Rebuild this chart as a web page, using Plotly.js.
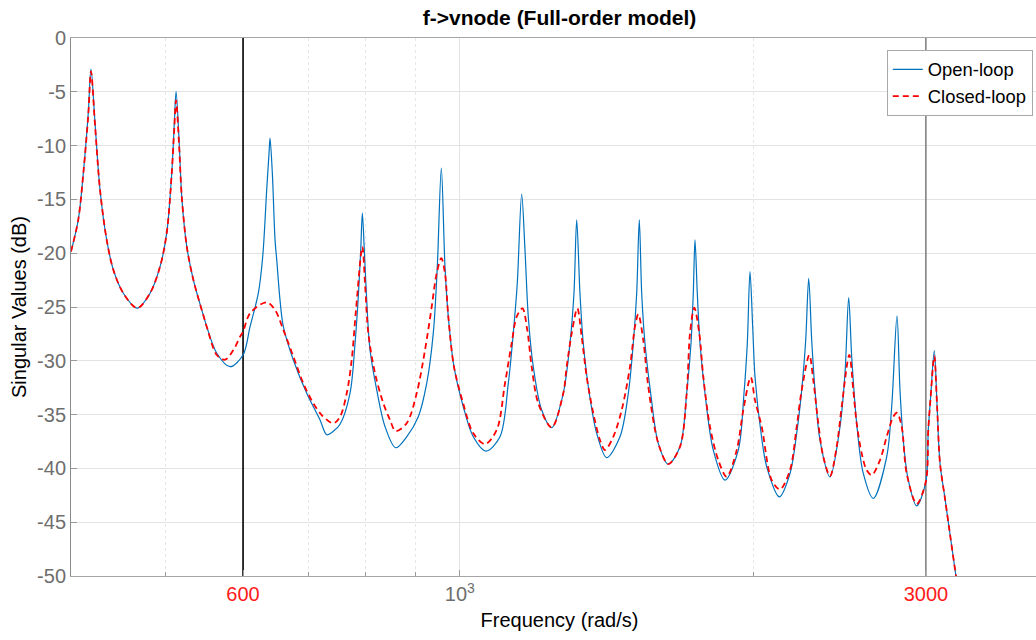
<!DOCTYPE html>
<html>
<head>
<meta charset="utf-8">
<script src="https://cdn.plot.ly/plotly-3.0.1.min.js"></script>
<style>
  html, body { margin: 0; padding: 0; overflow: hidden; background: #fff; }
  #chart { width: 1048px; height: 640px; }
</style>
</head>
<body>
<div id="chart"></div>
<script>
// ---- Data (frequency in rad/s, magnitude in dB) ----
const openLoopFreq = [400, 406.9, 411.8, 416.6, 419.3, 423.3, 428.3, 435.1, 442.0, 452.5, 467.6, 481.9, 493.4, 501.2, 507.2, 510.3, 512.4, 516.0, 519.3, 525.5, 533.7, 546.4, 550.8, 564.0, 581.9, 600, 610.0, 622.0, 628.5, 634.4, 637.9, 639.4, 642.9, 647.0, 649.6, 654.6, 659.8, 675.5, 697.2, 719.4, 730.8, 742.2, 754.1, 772.1, 781.2, 787.3, 791.8, 794.8, 798.5, 803.0, 809.3, 822.2, 838.4, 859.8, 882.4, 906.8, 925.0, 939.5, 948.4, 957.4, 965.7, 973.3, 986.4, 1008.3, 1032.3, 1063.7, 1099.4, 1121.1, 1134.4, 1145.1, 1157.0, 1166.1, 1175.2, 1189.1, 1212.9, 1241.8, 1276.2, 1296.5, 1308.8, 1317.2, 1327.4, 1337.8, 1356.9, 1380.8, 1413.7, 1458.7, 1487.6, 1505.2, 1517.3, 1526.6, 1535.3, 1547.2, 1568.2, 1596.5, 1634.6, 1680.3, 1707.1, 1724.5, 1733.8, 1740.8, 1750.2, 1761.4, 1782.3, 1817.5, 1868.4, 1927.8, 1953.9, 1969.2, 1981.7, 1994.4, 2005.2, 2037.2, 2061.4, 2123.4, 2177.6, 2212.2, 2238.5, 2259.8, 2275.8, 2291.9, 2309.8, 2337.2, 2392.9, 2449.9, 2478.9, 2500.7, 2518.4, 2548.2, 2588.2, 2649.9, 2735.0, 2767.4, 2802.2, 2822.0, 2844.0, 2877.7, 2935.3, 3000, 3016.7, 3033.8, 3059.6, 3079.2, 3101.0, 3137.8, 3174.9, 3220, 3235.2];
const openLoopDb = [-19.85, -16.9, -12.56, -6.98, -2.9, -7.9, -14.1, -18.76, -21.55, -23.72, -25.1, -23.72, -21.25, -18.14, -12.56, -7.9, -4.97, -9.46, -14.73, -19.39, -22.48, -25.77, -26.83, -29.3, -30.55, -29.46, -26.83, -23.72, -20.3, -14.11, -10.7, -9.3, -12.56, -18.76, -20.62, -24.34, -26.83, -29.92, -33.02, -35.5, -36.87, -36.55, -35.9, -33.0, -28.4, -24.0, -19.7, -16.28, -19.7, -24.34, -29.0, -32.7, -36.1, -38.08, -37.06, -35.2, -32.1, -27.4, -21.25, -12.09, -21.25, -25.9, -30.55, -34.27, -37.06, -38.39, -37.06, -32.1, -27.44, -22.8, -14.51, -19.7, -25.9, -30.55, -34.58, -36.22, -33.02, -28.37, -23.72, -16.9, -23.72, -28.37, -33.02, -36.74, -39.0, -37.06, -33.02, -28.37, -23.72, -16.9, -23.72, -28.37, -33.02, -37.67, -39.6, -37.99, -33.02, -28.37, -23.7, -18.76, -23.7, -28.37, -33.02, -38.3, -41.09, -38.3, -33.02, -28.37, -21.71, -26.83, -31.48, -37.2, -39.85, -42.64, -40.47, -36.74, -32.72, -28.07, -22.33, -28.07, -32.72, -37.37, -40.78, -36.13, -31.17, -24.13, -29.62, -35.82, -40.47, -42.79, -38.92, -34.27, -25.83, -32.72, -37.37, -41.09, -43.48, -41.2, -36.4, -33.3, -29.06, -34.0, -39.5, -42.8, -46.1, -50.0, -51.3];

const closedLoopFreq = [400, 406.9, 411.8, 416.6, 419.3, 423.3, 428.3, 435.1, 442.0, 452.5, 467.6, 481.9, 493.4, 501.2, 507.2, 510.3, 512.4, 516.0, 519.3, 525.5, 533.7, 546.4, 550.8, 564.0, 575.1, 586.5, 595.8, 600, 610.0, 634.4, 647.0, 659.8, 675.5, 691.6, 708.1, 722.2, 742.2, 754.1, 766.1, 775.1, 783.0, 794.8, 799.8, 806.1, 818.9, 835.1, 848.4, 859.8, 882.4, 903.4, 921.3, 936.0, 947.0, 957.4, 965.7, 973.3, 986.4, 1008.3, 1032.3, 1061.2, 1090.8, 1112.4, 1130.1, 1143.5, 1159.2, 1172.4, 1184.6, 1203.2, 1241.8, 1276.2, 1286.5, 1301.8, 1319.1, 1332.8, 1348.6, 1369.8, 1391.6, 1408.0, 1435.8, 1464.6, 1493.5, 1511.2, 1523.0, 1541.0, 1559.3, 1596.5, 1634.6, 1680.3, 1707.1, 1720.4, 1737.9, 1758.5, 1775.2, 1803.4, 1839.0, 1875.8, 1920.6, 1950.7, 1985.0, 2005.2, 2037.2, 2085.7, 2126.9, 2177.6, 2212.2, 2238.5, 2279.0, 2300.5, 2327.8, 2355.4, 2392.9, 2430.9, 2459.7, 2504.2, 2528.0, 2548.2, 2578.5, 2609.0, 2640.0, 2692.2, 2735.0, 2777.9, 2802.2, 2833.4, 2866.9, 2935.3, 3000, 3016.7, 3033.8, 3059.6, 3079.2, 3101.0, 3137.8, 3174.9, 3220, 3235.2];
const closedLoopDb = [-19.85, -16.9, -12.56, -7.2, -3.1, -8.1, -14.1, -18.76, -21.55, -23.72, -25.1, -23.72, -21.25, -18.14, -12.56, -8.3, -5.8, -9.9, -14.73, -19.39, -22.48, -25.77, -26.83, -29.46, -29.9, -29.0, -27.76, -27.3, -25.58, -24.56, -25.27, -27.13, -29.6, -32.1, -33.95, -35.04, -35.81, -35.2, -33.02, -29.92, -25.27, -19.4, -22.8, -27.44, -31.16, -33.95, -35.5, -36.53, -35.8, -33.02, -29.0, -24.97, -21.86, -20.47, -21.86, -25.9, -30.55, -34.0, -36.74, -37.74, -36.44, -32.1, -28.37, -25.9, -25.13, -27.13, -30.55, -33.95, -36.2, -33.02, -30.55, -27.44, -25.12, -27.76, -31.48, -34.88, -37.37, -38.3, -37.06, -34.58, -30.55, -26.83, -25.67, -28.07, -32.4, -37.67, -39.6, -37.99, -33.02, -27.44, -25.06, -27.44, -31.48, -36.13, -39.23, -40.78, -38.3, -34.58, -31.53, -33.65, -36.13, -41.09, -41.95, -40.16, -36.13, -32.72, -29.46, -31.79, -35.82, -38.92, -40.7, -37.99, -34.27, -29.46, -32.72, -35.82, -38.6, -40.16, -40.62, -39.23, -37.06, -35.2, -34.83, -36.13, -40.47, -43.3, -41.2, -36.4, -33.3, -29.55, -34.0, -39.5, -42.8, -46.1, -50.0, -51.3];

const markerFreqs = [600, 3000];          // vertical reference lines
const markerColors = ['#000000', '#555555'];
const xTickVals = [600, 1000, 3000];
const xTickText = ['<span style="color:#ff1a1a">600</span>', '10<sup>3</sup>', '<span style="color:#ff1a1a">3000</span>'];
const xMinorVals = [500, 600, 700, 800, 900, 2000, 3000, 4000];
const yTickVals = [0, -5, -10, -15, -20, -25, -30, -35, -40, -45, -50];
const yTickText = yTickVals.map(v => String(v));

const FONT = 'Liberation Sans, Arial, Helvetica, sans-serif';

const traces = [];
markerFreqs.forEach((f, i) => {
  traces.push({
    x: [f, f], y: [-50, 0], mode: 'lines', showlegend: false, hoverinfo: 'skip',
    line: { color: markerColors[i], width: i === 0 ? 1.6 : 1.1 }
  });
});
traces.push({
  x: openLoopFreq, y: openLoopDb, name: 'Open-loop', mode: 'lines',
  line: { color: '#0072BD', width: 1.2, shape: 'spline', smoothing: 0.9 }
});
traces.push({
  x: closedLoopFreq, y: closedLoopDb, name: 'Closed-loop', mode: 'lines',
  line: { color: '#FF0000', width: 1.8, dash: '6px,4px', shape: 'spline', smoothing: 0.9 }
});

const layout = {
  width: 1048, height: 640,
  margin: { l: 71, r: 0, t: 38, b: 64 },
  paper_bgcolor: '#ffffff', plot_bgcolor: '#ffffff',
  font: { family: FONT, color: '#000' },
  title: {
    text: '<b>f->vnode (Full-order model)</b>',
    xref: 'paper', x: 0.5, xanchor: 'center',
    yref: 'container', y: 0.972, yanchor: 'middle',
    font: { family: FONT, size: 21, color: '#000' }
  },
  xaxis: {
    type: 'log', range: [Math.log10(400), Math.log10(4000)],
    tickvals: xTickVals, ticktext: xTickText,
    tickfont: { family: FONT, size: 20, color: '#6e6e6e' },
    ticks: 'inside', ticklen: 6, tickcolor: '#9a9a9a',
    showgrid: true, gridcolor: '#e3e3e3', gridwidth: 1,
    minor: { tickvals: xMinorVals, showgrid: true, gridcolor: '#e6e6e6', griddash: 'dot', ticks: 'inside', ticklen: 4, tickcolor: '#9a9a9a' },
    showline: true, linecolor: '#a6a6a6', linewidth: 1, mirror: true,
    zeroline: false,
    title: { text: 'Frequency (rad/s)', font: { family: FONT, size: 20, color: '#000' }, standoff: 8 },
    fixedrange: true
  },
  yaxis: {
    range: [-50, 0],
    tickvals: yTickVals, ticktext: yTickText,
    tickfont: { family: FONT, size: 20, color: '#6e6e6e' },
    ticks: 'inside', ticklen: 6, tickcolor: '#9a9a9a',
    showgrid: true, gridcolor: '#e3e3e3', gridwidth: 1,
    showline: true, linecolor: '#8a8a8a', linewidth: 1, mirror: true,
    zeroline: false,
    title: { text: 'Singular Values (dB)', font: { family: FONT, size: 20, color: '#000' }, standoff: 5 },
    fixedrange: true
  },
  legend: {
    x: 0.835, y: 0.978, xanchor: 'left', yanchor: 'top',
    bgcolor: '#ffffff', bordercolor: '#a8a8a8', borderwidth: 1,
    font: { family: FONT, size: 18.4, color: '#000' },
    itemwidth: 30, tracegroupgap: 0
  },
  showlegend: true
};

Plotly.newPlot('chart', traces, layout, { displayModeBar: false, staticPlot: true });
</script>
</body>
</html>
